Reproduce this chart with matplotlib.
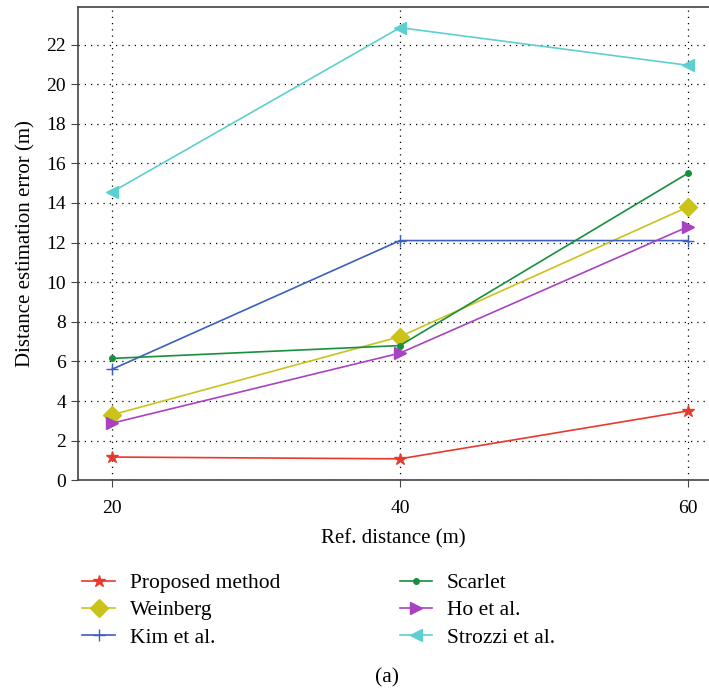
import matplotlib.pyplot as plt
import numpy as np

plt.rcParams['font.family'] = ['Liberation Serif', 'DejaVu Serif']

# Data
ref_distance = [20, 40, 60]
proposed = [1.17, 1.08, 3.5]
weinberg = [3.3, 7.25, 13.8]
kim = [5.6, 12.1, 12.1]
scarlet = [6.15, 6.8, 15.5]
ho = [2.88, 6.42, 12.8]
strozzi = [14.55, 22.85, 20.95]

series = [
    ('Proposed method', proposed, '#e8392c', '*', 9),
    ('Weinberg', weinberg, '#c9c31c', 'D', 9),
    ('Kim et al.', kim, '#3c5fbf', '+', 9),
    ('Scarlet', scarlet, '#17903c', 'o', 4),
    ('Ho et al.', ho, '#a942c2', '>', 8),
    ('Strozzi et al.', strozzi, '#5ccfd0', '<', 8),
]

fig = plt.figure(figsize=(7.09, 6.88), dpi=100)
ax = fig.add_axes([0.11, 0.302, 0.89, 0.688])

for label, vals, color, marker, ms in series:
    ax.plot(ref_distance, vals, color=color, marker=marker, markersize=ms,
            linewidth=1.2, label=label)

ax.set_xlim(17.64, 61.46)
ax.set_ylim(0, 23.9)
ax.set_xticks(ref_distance)
ax.set_yticks(np.arange(0, 23, 2))
ax.tick_params(labelsize=14, direction='out', length=5, color='#444444')
ax.tick_params(axis='x', pad=9)
ax.grid(True, color='black', linestyle=(0, (1, 4)), linewidth=0.9)
for side in ['left', 'bottom', 'top']:
    ax.spines[side].set_color('#444444')
    ax.spines[side].set_linewidth(1.2)
ax.spines['right'].set_visible(False)

ax.set_xlabel('Ref. distance (m)', fontsize=15, labelpad=9)
ax.set_ylabel('Distance estimation error (m)', fontsize=15, labelpad=8)

handles, labels = ax.get_legend_handles_labels()
fig.legend(handles, labels,
           loc='upper left', bbox_to_anchor=(0.089, 0.195), ncol=2,
           frameon=False, fontsize=15.5, columnspacing=5.55,
           handlelength=1.5, handletextpad=0.7, labelspacing=0.33)

fig.text(0.546, 0.015, '(a)', ha='center', va='center', fontsize=15.5)

fig.savefig('out.png', dpi=100)
